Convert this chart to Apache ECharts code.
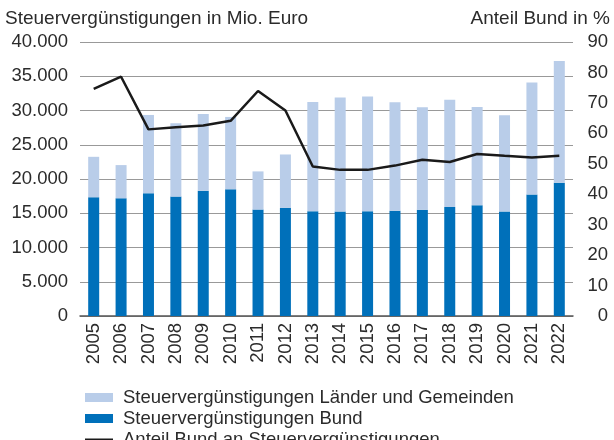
<!DOCTYPE html>
<html>
<head>
<meta charset="utf-8">
<title>Steuervergünstigungen</title>
<script src="https://cdn.jsdelivr.net/npm/echarts@6/dist/echarts.min.js"></script>
<style>
    html, body { margin: 0; padding: 0; background: #fff; }
    #chart { width: 614px; height: 440px; }
</style>
</head>
<body>
<div id="chart"></div>
<script>
    // Werte
    let jahre = ['2005', '2006', '2007', '2008', '2009', '2010', '2011', '2012', '2013',
        '2014', '2015', '2016', '2017', '2018', '2019', '2020', '2021', '2022'];
    let bund = [17340, 17190, 17920, 17430, 18300, 18500, 15540, 15790, 15300,
        15250, 15300, 15350, 15500, 15930, 16170, 15250, 17720, 19470];
    let laender = [5900, 4840, 11430, 10710, 11190, 10560, 5570, 7790, 15930,
        16660, 16760, 15840, 14960, 15640, 14340, 14050, 16370, 17770];
    let anteilBund = [74.6, 78.6, 61.3, 62.0, 62.6, 64.1, 73.9, 67.5, 49.1,
        48.0, 48.0, 49.4, 51.3, 50.6, 53.2, 52.6, 52.1, 52.6];

    let schrift = 'Liberation Sans, Arial, Helvetica, sans-serif';
    let textFarbe = '#2b2b2b';

    let chart = echarts.init(document.getElementById('chart'));

    let option = {
        animation: false,
        textStyle: { fontFamily: schrift },
        title: [{
            text: 'Steuervergünstigungen in Mio. Euro',
            left: 0, top: 4,
            textStyle: { fontSize: 19, fontWeight: 'normal', color: textFarbe, fontFamily: schrift }
        }, {
            text: 'Anteil Bund in %',
            right: -1, top: 4,
            textStyle: { fontSize: 19, fontWeight: 'normal', color: textFarbe, fontFamily: schrift }
        }],
        legend: {
            orient: 'vertical',
            left: 79, top: 383, height: 120,
            itemWidth: 28, itemHeight: 9, itemGap: 2,
            textStyle: { fontSize: 18.5, color: textFarbe, fontFamily: schrift, padding: [0, 0, 0, 5] },
            data: [
                { name: 'Steuervergünstigungen Länder und Gemeinden', icon: 'rect' },
                { name: 'Steuervergünstigungen Bund', icon: 'rect' },
                { name: 'Anteil Bund an Steuervergünstigungen', itemStyle: { opacity: 0 } }
            ]
        },
        grid: { left: 80, right: 41, top: 42, bottom: 124 },
        xAxis: {
            type: 'category',
            data: jahre,
            axisLine: { lineStyle: { color: '#555', width: 1.5 } },
            axisTick: { show: false },
            axisLabel: {
                rotate: 90, margin: 7, fontSize: 18.5, color: textFarbe, fontFamily: schrift
            }
        },
        yAxis: [{
            type: 'value',
            min: 0, max: 40000, interval: 5000,
            axisLine: { show: false },
            axisTick: { show: false },
            splitLine: { lineStyle: { color: '#999', width: 1 } },
            axisLabel: {
                margin: 12, fontSize: 18.5, color: textFarbe, fontFamily: schrift,
                formatter: function (v) {
                    return String(v).replace(/\B(?=(\d{3})+(?!\d))/g, '.');
                }
            }
        }, {
            type: 'value',
            min: 0, max: 90, interval: 10,
            position: 'right',
            axisLine: { show: false },
            axisTick: { show: false },
            splitLine: { show: false },
            axisLabel: {
                margin: 35, align: 'right', fontSize: 18.5, color: textFarbe, fontFamily: schrift
            }
        }],
        series: [{
            name: 'Steuervergünstigungen Bund',
            type: 'bar',
            stack: 'summe',
            barWidth: 11,
            data: bund,
            itemStyle: { color: '#0070ba' }
        }, {
            name: 'Steuervergünstigungen Länder und Gemeinden',
            type: 'bar',
            stack: 'summe',
            barWidth: 11,
            data: laender,
            itemStyle: { color: '#b9cde9' }
        }, {
            name: 'Anteil Bund an Steuervergünstigungen',
            type: 'line',
            yAxisIndex: 1,
            data: anteilBund,
            symbol: 'none',
            itemStyle: { color: '#1a1a1a' },
            lineStyle: { color: '#1a1a1a', width: 2.5 },
            z: 5
        }]
    };

    chart.setOption(option);
</script>
</body>
</html>
